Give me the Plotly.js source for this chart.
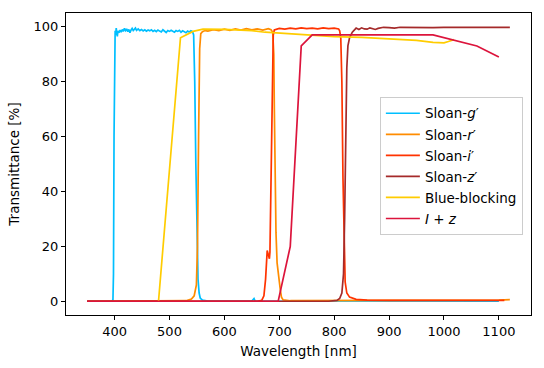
<!DOCTYPE html>
<html>
<head>
<meta charset="utf-8">
<script src="https://cdn.plot.ly/plotly-3.0.1.min.js"></script>
<style>
  html, body { margin: 0; padding: 0; background: #fff; }
  #chart { width: 544px; height: 368px; }
</style>
</head>
<body>
<div id="chart"></div>
<script>
// Sloan g'
const gWave = [350, 395, 397, 398, 399, 400, 401, 402, 403, 404, 405, 406, 408, 410, 412, 414, 416, 418, 420, 422, 424, 426, 428, 430, 432, 434, 436, 438, 440, 443, 446, 449, 452, 455, 458, 461, 464, 467, 470, 473, 476, 479, 482, 485, 488, 491, 494, 497, 500, 503, 506, 509, 512, 515, 518, 521, 524, 527, 530, 533, 536, 539, 542, 544, 546, 548, 550, 552, 554, 556, 560, 570, 650, 654, 656, 658, 700, 1100]
const gTrans = [0, 0, 0.5, 10, 60, 96, 98.5, 97, 99.5, 97.5, 96.5, 98.5, 97.8, 98.8, 98, 99, 98.3, 99.4, 98.6, 99.2, 98.2, 99, 97.8, 98.8, 99.4, 98.6, 99.1, 99.5, 98.7, 99.2, 98.6, 99, 98.5, 98.9, 98.4, 98.8, 98.5, 98.9, 98.3, 98.7, 98.2, 98.8, 98.4, 98.1, 98.9, 98.4, 97.9, 98.6, 98.3, 98.7, 98.2, 98, 98.6, 98.3, 98.7, 98, 98.5, 98.2, 97.8, 98.4, 98.1, 98.5, 98.2, 97, 80, 50, 22, 8, 3, 1.2, 0.4, 0.1, 0.1, 1, 0.1, 0.1, 0, 0]

// Sloan r'
const rWave = [350, 530, 540, 545, 549, 551, 553, 555, 557, 560, 565, 570, 580, 590, 600, 610, 620, 630, 640, 650, 660, 670, 680, 685, 688, 690, 691, 692, 694, 696, 698, 700, 702, 704, 707, 720, 800, 1000, 1100, 1120]
const rTrans = [0, 0.2, 0.8, 2, 6, 20, 60, 92, 97.5, 98.2, 98.6, 98.4, 98.9, 98.6, 99.1, 98.7, 99.2, 98.8, 99.3, 98.9, 99.2, 98.8, 99.3, 98.9, 98, 90, 70, 45, 25, 14, 10, 8, 4, 1.5, 0.5, 0.2, 0.2, 0.3, 0.4, 0.6]

// Sloan i'
const iWave = [350, 660, 668, 672, 675, 677, 678, 680, 682, 683, 685, 687, 689, 691, 700, 710, 720, 730, 740, 750, 760, 770, 780, 790, 800, 808, 810, 812, 814, 816, 818, 820, 823, 828, 840, 860, 900, 1000, 1110]
const iTrans = [0, 0, 0.3, 2, 8, 16, 18.5, 17, 15.5, 18, 50, 85, 97, 98.8, 99.4, 99.1, 99.5, 99.2, 99.6, 99.3, 99.5, 99.2, 99.6, 99.3, 99.5, 99.2, 98.5, 96, 80, 45, 18, 7, 3, 1.5, 0.7, 0.4, 0.3, 0.3, 0.3]

// Sloan z'
const zWave = [350, 790, 805, 810, 814, 817, 819, 821, 823, 825, 828, 833, 840, 845, 850, 855, 860, 865, 870, 875, 880, 890, 900, 910, 920, 940, 960, 980, 1000, 1050, 1100, 1110, 1120]
const zTrans = [0, 0, 0.3, 1, 3, 10, 30, 60, 85, 93, 96, 98, 99.5, 99, 99.6, 99.2, 99.1, 99.6, 99.3, 99, 99.4, 99.8, 99.7, 99.5, 99.8, 99.7, 99.6, 99.7, 99.8, 99.8, 99.9, 100, 99.8]

// Blue-blocking
const bbWave = [480, 520, 543, 561, 600, 650, 674, 700, 750, 800, 850, 900, 950, 980, 1000, 1008, 1018]
const bbTrans = [0, 96, 98.3, 99.1, 99, 98.6, 98, 97.7, 97.1, 96.4, 96.1, 95.6, 95, 94.3, 94.1, 94.6, 95.3]

// I + z
const izWave = [350, 698, 720, 740, 760, 980, 1060, 1100]
const izTrans = [0, 0, 20, 93, 97, 97, 93, 89]

const seriesNames = ["Sloan-<i>g</i>′", "Sloan-<i>r</i>′", "Sloan-<i>i</i>′", "Sloan-<i>z</i>′", "Blue-blocking", "<i>I</i> + <i>z</i>"]
const seriesColors = ["#00bfff", "#ff8c00", "#ff3300", "#a52a2a", "#ffcc00", "#dc143c"]
const seriesWave = [gWave, rWave, iWave, zWave, bbWave, izWave]
const seriesTrans = [gTrans, rTrans, iTrans, zTrans, bbTrans, izTrans]

const xTicks = [400, 500, 600, 700, 800, 900, 1000, 1100]
const yTicks = [0, 20, 40, 60, 80, 100]

const data = seriesNames.map((name, k) => ({
  x: seriesWave[k], y: seriesTrans[k],
  type: "scatter", mode: "lines", name, legendgroup: "g" + k,
  line: {color: seriesColors[k], width: 1.7}
}))

const font = {family: "DejaVu Sans, sans-serif", size: 13, color: "#000"}
const titleFont = {family: "DejaVu Sans, sans-serif", size: 13.5, color: "#000"}

Plotly.newPlot("chart", data, {
  width: 544, height: 368,
  margin: {l: 66, r: 13, t: 13, b: 53},
  paper_bgcolor: "#fff", plot_bgcolor: "#fff",
  font,
  showlegend: true,
  xaxis: {
    range: [311.5, 1158.5], tickvals: xTicks, ticks: "outside", ticklen: 4, tickcolor: "#000",
    showline: true, mirror: true, linecolor: "#000", linewidth: 1, showgrid: false, zeroline: false,
    title: {text: "Wavelength [nm]", font: titleFont, standoff: 8}
  },
  yaxis: {
    range: [-5, 105], tickvals: yTicks, ticks: "outside", ticklen: 4, tickcolor: "#000",
    showline: true, mirror: true, linecolor: "#000", linewidth: 1, showgrid: false, zeroline: false,
    title: {text: "Transmittance [%]", font: titleFont, standoff: 10}
  },
  legend: {
    x: 0.675, y: 0.722, xanchor: "left", yanchor: "top",
    bgcolor: "rgba(255,255,255,0.8)", bordercolor: "#cccccc", borderwidth: 1,
    font: titleFont, itemwidth: 34, traceorder: "grouped", tracegroupgap: 0.5
  }
}, {displayModeBar: false, staticPlot: true})
</script>
</body>
</html>
